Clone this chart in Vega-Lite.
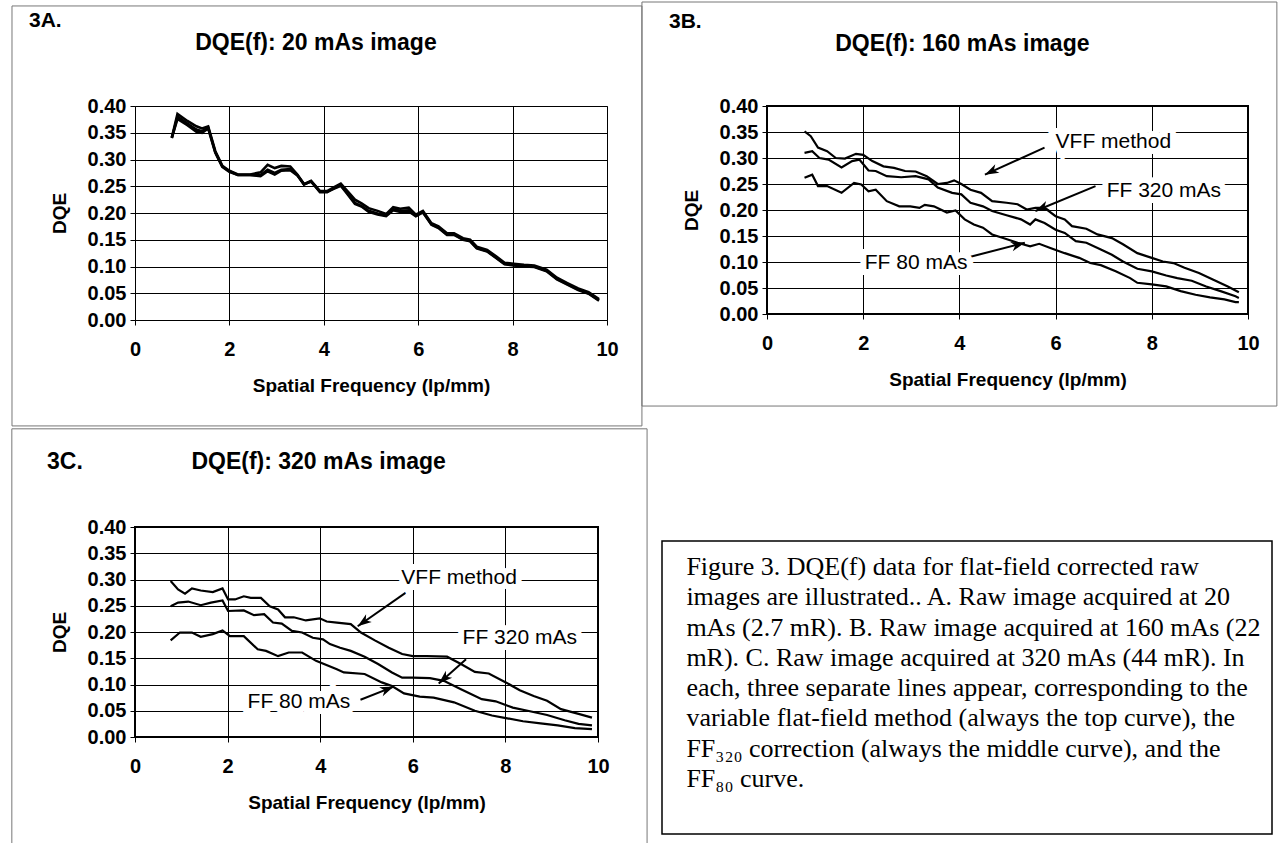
{
  "$schema": "https://vega.github.io/schema/vega-lite/v6.json",
  "background": "white",
  "padding": {"left": 10, "top": 0, "right": 0, "bottom": 0},
  "config": {
    "font": "Liberation Sans",
    "axis": {"grid": true, "gridColor": "black", "gridOpacity": 1, "gridWidth": 1, "domain": false, "tickColor": "black", "tickSize": 5, "labelColor": "black", "labelFont": "Liberation Sans", "labelFontSize": 20, "labelFontWeight": "bold", "titleColor": "black", "titleFont": "Liberation Sans", "titleFontSize": 19, "titleFontWeight": "bold", "labelOverlap": false},
    "axisX": {"labelPadding": 14, "titlePadding": 17, "labelFlush": false, "tickCount": 5},
    "axisY": {"labelPadding": 4, "titlePadding": 18, "format": ".2f", "tickCount": 8}
  },
  "datasets": {
    "A": [
      {"s":"VFF","f":0.78,"d":0.341},{"s":"VFF","f":0.90,"d":0.385},{"s":"VFF","f":1.11,"d":0.372},{"s":"VFF","f":1.30,"d":0.362},{"s":"VFF","f":1.42,"d":0.358},{"s":"VFF","f":1.55,"d":0.362},{"s":"VFF","f":1.70,"d":0.316},{"s":"VFF","f":1.85,"d":0.288},{"s":"VFF","f":2.00,"d":0.279},{"s":"VFF","f":2.18,"d":0.272},{"s":"VFF","f":2.44,"d":0.272},{"s":"VFF","f":2.66,"d":0.276},{"s":"VFF","f":2.81,"d":0.290},{"s":"VFF","f":2.96,"d":0.284},{"s":"VFF","f":3.10,"d":0.288},{"s":"VFF","f":3.29,"d":0.287},{"s":"VFF","f":3.44,"d":0.272},{"s":"VFF","f":3.58,"d":0.254},{"s":"VFF","f":3.73,"d":0.260},{"s":"VFF","f":3.92,"d":0.241},{"s":"VFF","f":4.07,"d":0.241},{"s":"VFF","f":4.21,"d":0.248},{"s":"VFF","f":4.36,"d":0.255},{"s":"VFF","f":4.51,"d":0.240},{"s":"VFF","f":4.66,"d":0.225},{"s":"VFF","f":4.80,"d":0.218},{"s":"VFF","f":4.95,"d":0.209},{"s":"VFF","f":5.14,"d":0.204},{"s":"VFF","f":5.32,"d":0.198},{"s":"VFF","f":5.47,"d":0.211},{"s":"VFF","f":5.62,"d":0.208},{"s":"VFF","f":5.80,"d":0.210},{"s":"VFF","f":5.95,"d":0.197},{"s":"VFF","f":6.10,"d":0.204},{"s":"VFF","f":6.28,"d":0.181},{"s":"VFF","f":6.43,"d":0.175},{"s":"VFF","f":6.61,"d":0.162},{"s":"VFF","f":6.76,"d":0.162},{"s":"VFF","f":6.95,"d":0.153},{"s":"VFF","f":7.10,"d":0.150},{"s":"VFF","f":7.24,"d":0.137},{"s":"VFF","f":7.46,"d":0.131},{"s":"VFF","f":7.65,"d":0.119},{"s":"VFF","f":7.83,"d":0.107},{"s":"VFF","f":8.02,"d":0.105},{"s":"VFF","f":8.24,"d":0.103},{"s":"VFF","f":8.46,"d":0.102},{"s":"VFF","f":8.72,"d":0.094},{"s":"VFF","f":8.94,"d":0.079},{"s":"VFF","f":9.16,"d":0.069},{"s":"VFF","f":9.39,"d":0.059},{"s":"VFF","f":9.61,"d":0.052},{"s":"VFF","f":9.83,"d":0.039},
      {"s":"FF320","f":0.78,"d":0.341},{"s":"FF320","f":0.90,"d":0.376},{"s":"FF320","f":1.11,"d":0.364},{"s":"FF320","f":1.30,"d":0.352},{"s":"FF320","f":1.42,"d":0.350},{"s":"FF320","f":1.55,"d":0.358},{"s":"FF320","f":1.70,"d":0.313},{"s":"FF320","f":1.85,"d":0.286},{"s":"FF320","f":2.00,"d":0.277},{"s":"FF320","f":2.18,"d":0.271},{"s":"FF320","f":2.44,"d":0.271},{"s":"FF320","f":2.66,"d":0.269},{"s":"FF320","f":2.81,"d":0.278},{"s":"FF320","f":2.96,"d":0.272},{"s":"FF320","f":3.10,"d":0.279},{"s":"FF320","f":3.29,"d":0.280},{"s":"FF320","f":3.44,"d":0.270},{"s":"FF320","f":3.58,"d":0.254},{"s":"FF320","f":3.73,"d":0.259},{"s":"FF320","f":3.92,"d":0.240},{"s":"FF320","f":4.07,"d":0.240},{"s":"FF320","f":4.21,"d":0.245},{"s":"FF320","f":4.36,"d":0.251},{"s":"FF320","f":4.51,"d":0.234},{"s":"FF320","f":4.66,"d":0.217},{"s":"FF320","f":4.80,"d":0.212},{"s":"FF320","f":4.95,"d":0.202},{"s":"FF320","f":5.14,"d":0.197},{"s":"FF320","f":5.32,"d":0.194},{"s":"FF320","f":5.47,"d":0.205},{"s":"FF320","f":5.62,"d":0.202},{"s":"FF320","f":5.80,"d":0.203},{"s":"FF320","f":5.95,"d":0.194},{"s":"FF320","f":6.10,"d":0.201},{"s":"FF320","f":6.28,"d":0.179},{"s":"FF320","f":6.43,"d":0.173},{"s":"FF320","f":6.61,"d":0.160},{"s":"FF320","f":6.76,"d":0.160},{"s":"FF320","f":6.95,"d":0.151},{"s":"FF320","f":7.10,"d":0.148},{"s":"FF320","f":7.24,"d":0.135},{"s":"FF320","f":7.46,"d":0.129},{"s":"FF320","f":7.65,"d":0.117},{"s":"FF320","f":7.83,"d":0.105},{"s":"FF320","f":8.02,"d":0.103},{"s":"FF320","f":8.24,"d":0.101},{"s":"FF320","f":8.46,"d":0.100},{"s":"FF320","f":8.72,"d":0.092},{"s":"FF320","f":8.94,"d":0.077},{"s":"FF320","f":9.16,"d":0.067},{"s":"FF320","f":9.39,"d":0.057},{"s":"FF320","f":9.61,"d":0.050},{"s":"FF320","f":9.83,"d":0.037},
      {"s":"FF80","f":0.78,"d":0.340},{"s":"FF80","f":0.90,"d":0.380},{"s":"FF80","f":1.11,"d":0.367},{"s":"FF80","f":1.30,"d":0.356},{"s":"FF80","f":1.42,"d":0.353},{"s":"FF80","f":1.55,"d":0.360},{"s":"FF80","f":1.70,"d":0.314},{"s":"FF80","f":1.85,"d":0.287},{"s":"FF80","f":2.00,"d":0.278},{"s":"FF80","f":2.18,"d":0.271},{"s":"FF80","f":2.44,"d":0.271},{"s":"FF80","f":2.66,"d":0.271},{"s":"FF80","f":2.81,"d":0.281},{"s":"FF80","f":2.96,"d":0.275},{"s":"FF80","f":3.10,"d":0.281},{"s":"FF80","f":3.29,"d":0.282},{"s":"FF80","f":3.44,"d":0.271},{"s":"FF80","f":3.58,"d":0.253},{"s":"FF80","f":3.73,"d":0.259},{"s":"FF80","f":3.92,"d":0.239},{"s":"FF80","f":4.07,"d":0.239},{"s":"FF80","f":4.21,"d":0.246},{"s":"FF80","f":4.36,"d":0.252},{"s":"FF80","f":4.51,"d":0.236},{"s":"FF80","f":4.66,"d":0.219},{"s":"FF80","f":4.80,"d":0.213},{"s":"FF80","f":4.95,"d":0.204},{"s":"FF80","f":5.14,"d":0.199},{"s":"FF80","f":5.32,"d":0.195},{"s":"FF80","f":5.47,"d":0.207},{"s":"FF80","f":5.62,"d":0.204},{"s":"FF80","f":5.80,"d":0.205},{"s":"FF80","f":5.95,"d":0.195},{"s":"FF80","f":6.10,"d":0.202},{"s":"FF80","f":6.28,"d":0.178},{"s":"FF80","f":6.43,"d":0.172},{"s":"FF80","f":6.61,"d":0.159},{"s":"FF80","f":6.76,"d":0.159},{"s":"FF80","f":6.95,"d":0.150},{"s":"FF80","f":7.10,"d":0.147},{"s":"FF80","f":7.24,"d":0.134},{"s":"FF80","f":7.46,"d":0.128},{"s":"FF80","f":7.65,"d":0.116},{"s":"FF80","f":7.83,"d":0.104},{"s":"FF80","f":8.02,"d":0.102},{"s":"FF80","f":8.24,"d":0.100},{"s":"FF80","f":8.46,"d":0.099},{"s":"FF80","f":8.72,"d":0.091},{"s":"FF80","f":8.94,"d":0.076},{"s":"FF80","f":9.16,"d":0.066},{"s":"FF80","f":9.39,"d":0.056},{"s":"FF80","f":9.61,"d":0.049},{"s":"FF80","f":9.83,"d":0.036}
    ],
    "B": [
      {"s":"VFF","f":0.78,"d":0.351},{"s":"VFF","f":0.91,"d":0.342},{"s":"VFF","f":1.06,"d":0.320},{"s":"VFF","f":1.25,"d":0.313},{"s":"VFF","f":1.43,"d":0.300},{"s":"VFF","f":1.62,"d":0.299},{"s":"VFF","f":1.85,"d":0.308},{"s":"VFF","f":2.00,"d":0.306},{"s":"VFF","f":2.19,"d":0.294},{"s":"VFF","f":2.42,"d":0.284},{"s":"VFF","f":2.64,"d":0.281},{"s":"VFF","f":2.87,"d":0.275},{"s":"VFF","f":3.09,"d":0.274},{"s":"VFF","f":3.32,"d":0.265},{"s":"VFF","f":3.55,"d":0.250},{"s":"VFF","f":3.74,"d":0.252},{"s":"VFF","f":3.89,"d":0.257},{"s":"VFF","f":4.04,"d":0.250},{"s":"VFF","f":4.23,"d":0.239},{"s":"VFF","f":4.45,"d":0.233},{"s":"VFF","f":4.68,"d":0.217},{"s":"VFF","f":4.98,"d":0.214},{"s":"VFF","f":5.21,"d":0.211},{"s":"VFF","f":5.40,"d":0.201},{"s":"VFF","f":5.58,"d":0.204},{"s":"VFF","f":5.77,"d":0.204},{"s":"VFF","f":6.00,"d":0.188},{"s":"VFF","f":6.19,"d":0.182},{"s":"VFF","f":6.34,"d":0.169},{"s":"VFF","f":6.64,"d":0.164},{"s":"VFF","f":6.87,"d":0.153},{"s":"VFF","f":7.17,"d":0.146},{"s":"VFF","f":7.40,"d":0.134},{"s":"VFF","f":7.70,"d":0.117},{"s":"VFF","f":8.00,"d":0.108},{"s":"VFF","f":8.23,"d":0.101},{"s":"VFF","f":8.45,"d":0.098},{"s":"VFF","f":8.68,"d":0.089},{"s":"VFF","f":8.98,"d":0.079},{"s":"VFF","f":9.28,"d":0.066},{"s":"VFF","f":9.58,"d":0.053},{"s":"VFF","f":9.81,"d":0.042},
      {"s":"FF320","f":0.78,"d":0.310},{"s":"FF320","f":0.94,"d":0.313},{"s":"FF320","f":1.09,"d":0.300},{"s":"FF320","f":1.28,"d":0.297},{"s":"FF320","f":1.55,"d":0.282},{"s":"FF320","f":1.77,"d":0.294},{"s":"FF320","f":1.92,"d":0.297},{"s":"FF320","f":2.11,"d":0.276},{"s":"FF320","f":2.26,"d":0.275},{"s":"FF320","f":2.49,"d":0.265},{"s":"FF320","f":2.79,"d":0.263},{"s":"FF320","f":3.09,"d":0.265},{"s":"FF320","f":3.36,"d":0.259},{"s":"FF320","f":3.55,"d":0.243},{"s":"FF320","f":3.85,"d":0.233},{"s":"FF320","f":4.04,"d":0.230},{"s":"FF320","f":4.23,"d":0.214},{"s":"FF320","f":4.49,"d":0.207},{"s":"FF320","f":4.68,"d":0.198},{"s":"FF320","f":4.98,"d":0.190},{"s":"FF320","f":5.28,"d":0.182},{"s":"FF320","f":5.47,"d":0.172},{"s":"FF320","f":5.58,"d":0.182},{"s":"FF320","f":5.77,"d":0.175},{"s":"FF320","f":6.00,"d":0.162},{"s":"FF320","f":6.19,"d":0.156},{"s":"FF320","f":6.42,"d":0.140},{"s":"FF320","f":6.64,"d":0.137},{"s":"FF320","f":6.94,"d":0.124},{"s":"FF320","f":7.17,"d":0.114},{"s":"FF320","f":7.40,"d":0.101},{"s":"FF320","f":7.70,"d":0.087},{"s":"FF320","f":8.00,"d":0.082},{"s":"FF320","f":8.30,"d":0.074},{"s":"FF320","f":8.53,"d":0.069},{"s":"FF320","f":8.83,"d":0.064},{"s":"FF320","f":9.13,"d":0.053},{"s":"FF320","f":9.43,"d":0.044},{"s":"FF320","f":9.74,"d":0.034},{"s":"FF320","f":9.81,"d":0.031},
      {"s":"FF80","f":0.78,"d":0.262},{"s":"FF80","f":0.94,"d":0.268},{"s":"FF80","f":1.06,"d":0.246},{"s":"FF80","f":1.25,"d":0.246},{"s":"FF80","f":1.55,"d":0.233},{"s":"FF80","f":1.81,"d":0.252},{"s":"FF80","f":1.96,"d":0.249},{"s":"FF80","f":2.11,"d":0.236},{"s":"FF80","f":2.26,"d":0.239},{"s":"FF80","f":2.49,"d":0.217},{"s":"FF80","f":2.75,"d":0.207},{"s":"FF80","f":2.98,"d":0.207},{"s":"FF80","f":3.17,"d":0.204},{"s":"FF80","f":3.28,"d":0.210},{"s":"FF80","f":3.47,"d":0.207},{"s":"FF80","f":3.74,"d":0.195},{"s":"FF80","f":3.92,"d":0.199},{"s":"FF80","f":4.11,"d":0.182},{"s":"FF80","f":4.30,"d":0.172},{"s":"FF80","f":4.49,"d":0.166},{"s":"FF80","f":4.68,"d":0.153},{"s":"FF80","f":4.91,"d":0.146},{"s":"FF80","f":5.21,"d":0.137},{"s":"FF80","f":5.47,"d":0.130},{"s":"FF80","f":5.66,"d":0.135},{"s":"FF80","f":5.89,"d":0.127},{"s":"FF80","f":6.19,"d":0.117},{"s":"FF80","f":6.49,"d":0.108},{"s":"FF80","f":6.72,"d":0.098},{"s":"FF80","f":6.94,"d":0.094},{"s":"FF80","f":7.25,"d":0.082},{"s":"FF80","f":7.55,"d":0.069},{"s":"FF80","f":7.70,"d":0.060},{"s":"FF80","f":8.00,"d":0.057},{"s":"FF80","f":8.30,"d":0.053},{"s":"FF80","f":8.60,"d":0.044},{"s":"FF80","f":8.91,"d":0.037},{"s":"FF80","f":9.21,"d":0.032},{"s":"FF80","f":9.51,"d":0.028},{"s":"FF80","f":9.74,"d":0.023},{"s":"FF80","f":9.81,"d":0.023}
    ],
    "C": [
      {"s":"VFF","f":0.77,"d":0.297},{"s":"VFF","f":0.93,"d":0.281},{"s":"VFF","f":1.08,"d":0.273},{"s":"VFF","f":1.23,"d":0.283},{"s":"VFF","f":1.42,"d":0.279},{"s":"VFF","f":1.68,"d":0.276},{"s":"VFF","f":1.89,"d":0.283},{"s":"VFF","f":2.01,"d":0.262},{"s":"VFF","f":2.16,"d":0.262},{"s":"VFF","f":2.35,"d":0.268},{"s":"VFF","f":2.50,"d":0.265},{"s":"VFF","f":2.72,"d":0.265},{"s":"VFF","f":2.91,"d":0.249},{"s":"VFF","f":3.09,"d":0.243},{"s":"VFF","f":3.24,"d":0.228},{"s":"VFF","f":3.43,"d":0.228},{"s":"VFF","f":3.69,"d":0.222},{"s":"VFF","f":3.99,"d":0.226},{"s":"VFF","f":4.14,"d":0.220},{"s":"VFF","f":4.36,"d":0.218},{"s":"VFF","f":4.66,"d":0.215},{"s":"VFF","f":4.88,"d":0.199},{"s":"VFF","f":5.18,"d":0.184},{"s":"VFF","f":5.48,"d":0.170},{"s":"VFF","f":5.77,"d":0.158},{"s":"VFF","f":6.00,"d":0.154},{"s":"VFF","f":6.30,"d":0.154},{"s":"VFF","f":6.74,"d":0.153},{"s":"VFF","f":7.04,"d":0.139},{"s":"VFF","f":7.34,"d":0.124},{"s":"VFF","f":7.64,"d":0.121},{"s":"VFF","f":8.01,"d":0.104},{"s":"VFF","f":8.31,"d":0.089},{"s":"VFF","f":8.61,"d":0.078},{"s":"VFF","f":8.90,"d":0.069},{"s":"VFF","f":9.20,"d":0.053},{"s":"VFF","f":9.58,"d":0.044},{"s":"VFF","f":9.87,"d":0.037},
      {"s":"FF320","f":0.77,"d":0.249},{"s":"FF320","f":0.93,"d":0.256},{"s":"FF320","f":1.15,"d":0.258},{"s":"FF320","f":1.42,"d":0.251},{"s":"FF320","f":1.64,"d":0.256},{"s":"FF320","f":1.89,"d":0.260},{"s":"FF320","f":2.01,"d":0.240},{"s":"FF320","f":2.35,"d":0.241},{"s":"FF320","f":2.57,"d":0.232},{"s":"FF320","f":2.79,"d":0.234},{"s":"FF320","f":2.98,"d":0.218},{"s":"FF320","f":3.17,"d":0.216},{"s":"FF320","f":3.39,"d":0.202},{"s":"FF320","f":3.61,"d":0.199},{"s":"FF320","f":3.84,"d":0.189},{"s":"FF320","f":4.06,"d":0.186},{"s":"FF320","f":4.21,"d":0.177},{"s":"FF320","f":4.43,"d":0.170},{"s":"FF320","f":4.66,"d":0.164},{"s":"FF320","f":4.96,"d":0.153},{"s":"FF320","f":5.25,"d":0.139},{"s":"FF320","f":5.55,"d":0.123},{"s":"FF320","f":5.77,"d":0.113},{"s":"FF320","f":6.00,"d":0.113},{"s":"FF320","f":6.37,"d":0.112},{"s":"FF320","f":6.67,"d":0.107},{"s":"FF320","f":7.04,"d":0.091},{"s":"FF320","f":7.49,"d":0.072},{"s":"FF320","f":7.79,"d":0.068},{"s":"FF320","f":8.16,"d":0.056},{"s":"FF320","f":8.53,"d":0.049},{"s":"FF320","f":8.90,"d":0.042},{"s":"FF320","f":9.28,"d":0.032},{"s":"FF320","f":9.58,"d":0.025},{"s":"FF320","f":9.87,"d":0.022},
      {"s":"FF80","f":0.77,"d":0.184},{"s":"FF80","f":0.97,"d":0.199},{"s":"FF80","f":1.23,"d":0.199},{"s":"FF80","f":1.42,"d":0.191},{"s":"FF80","f":1.68,"d":0.196},{"s":"FF80","f":1.89,"d":0.203},{"s":"FF80","f":2.05,"d":0.192},{"s":"FF80","f":2.35,"d":0.192},{"s":"FF80","f":2.65,"d":0.167},{"s":"FF80","f":2.83,"d":0.164},{"s":"FF80","f":3.09,"d":0.154},{"s":"FF80","f":3.32,"d":0.161},{"s":"FF80","f":3.61,"d":0.161},{"s":"FF80","f":3.91,"d":0.145},{"s":"FF80","f":4.36,"d":0.129},{"s":"FF80","f":4.51,"d":0.123},{"s":"FF80","f":4.96,"d":0.120},{"s":"FF80","f":5.33,"d":0.104},{"s":"FF80","f":5.55,"d":0.097},{"s":"FF80","f":5.81,"d":0.083},{"s":"FF80","f":6.15,"d":0.077},{"s":"FF80","f":6.45,"d":0.075},{"s":"FF80","f":6.89,"d":0.066},{"s":"FF80","f":7.34,"d":0.050},{"s":"FF80","f":7.71,"d":0.041},{"s":"FF80","f":8.01,"d":0.036},{"s":"FF80","f":8.38,"d":0.030},{"s":"FF80","f":8.76,"d":0.026},{"s":"FF80","f":9.13,"d":0.022},{"s":"FF80","f":9.50,"d":0.017},{"s":"FF80","f":9.87,"d":0.015}
    ],
    "annB": [
      {"label":"VFF method","tx":7.2,"ty":0.33,"x1":5.77,"y1":0.32,"x2":4.53,"y2":0.268,"ang":244},
      {"label":"FF 320 mAs","tx":8.25,"ty":0.236,"x1":6.83,"y1":0.246,"x2":5.58,"y2":0.198,"ang":246},
      {"label":"FF 80 mAs","tx":3.1,"ty":0.098,"x1":4.23,"y1":0.11,"x2":5.36,"y2":0.137,"ang":74}
    ],
    "annC": [
      {"label":"VFF method","tx":7.0,"ty":0.303,"x1":5.85,"y1":0.275,"x2":4.81,"y2":0.211,"ang":234},
      {"label":"FF 320 mAs","tx":8.31,"ty":0.188,"x1":7.15,"y1":0.148,"x2":6.56,"y2":0.102,"ang":228},
      {"label":"FF 80 mAs","tx":3.54,"ty":0.066,"x1":4.87,"y1":0.071,"x2":5.59,"y2":0.096,"ang":68}
    ],
    "caption": [
      {"line":1,"text":"Figure 3. DQE(f) data for flat-field corrected raw"},
      {"line":2,"text":"images are illustrated.. A. Raw image acquired at 20"},
      {"line":3,"text":"mAs (2.7 mR). B. Raw image acquired at 160 mAs (22"},
      {"line":4,"text":"mR). C. Raw image acquired at 320 mAs (44 mR). In"},
      {"line":5,"text":"each, three separate lines appear, corresponding to the"},
      {"line":6,"text":"variable flat-field method (always the top curve), the"},
      {"line":7,"text":"FF₃₂₀ correction (always the middle curve), and the"},
      {"line":8,"text":"FF₈₀ curve."}
    ]
  },
  "vconcat": [
    {
      "hconcat": [
        {
          "width": 472, "height": 214,
          "view": {"stroke": "#555555", "strokeWidth": 1},
          "title": {"text": "3A.", "subtitle": "\u200b\u00a0\u00a0\u00a0\u00a0\u00a0\u00a0\u00a0\u00a0\u00a0\u00a0\u00a0\u00a0\u00a0\u00a0\u00a0\u00a0\u00a0\u00a0\u00a0\u00a0\u00a0\u00a0\u00a0\u00a0\u00a0\u00a0DQE(f): 20 mAs image", "anchor": "start", "frame": "group", "dx": -106, "offset": -50, "font": "Liberation Sans", "fontSize": 21, "fontWeight": "bold", "color": "black", "subtitleFont": "Liberation Sans", "subtitleFontSize": 23, "subtitleFontWeight": "bold", "subtitleColor": "black", "subtitlePadding": 1},
          "layer": [
            {
              "data": {"values": [{}]},
              "mark": {"type": "rect", "fillOpacity": 0, "stroke": "#777777", "strokeWidth": 1},
              "encoding": {
                "x": {"datum": -2.606, "type": "quantitative", "scale": {"domain": [0, 10], "nice": false}, "title": "Spatial Frequency (lp/mm)"},
                "x2": {"datum": 10.74},
                "y": {"datum": 0.587, "type": "quantitative", "scale": {"domain": [0, 0.4], "nice": false}, "title": "DQE"},
                "y2": {"datum": -0.198}
              }
            },
            {
              "data": {"name": "A"},
              "mark": {"type": "line", "color": "black", "strokeWidth": 2.6},
              "encoding": {
                "x": {"field": "f", "type": "quantitative", "scale": {"domain": [0, 10], "nice": false}, "title": "Spatial Frequency (lp/mm)"},
                "y": {"field": "d", "type": "quantitative", "scale": {"domain": [0, 0.4], "nice": false}, "title": "DQE"},
                "detail": {"field": "s"}
              }
            }
          ]
        },
        {
          "width": 481, "height": 208,
          "view": {"stroke": "black", "strokeWidth": 2},
          "title": {"text": "3B.", "subtitle": "\u200b\u00a0\u00a0\u00a0\u00a0\u00a0\u00a0\u00a0\u00a0\u00a0\u00a0\u00a0\u00a0\u00a0\u00a0\u00a0\u00a0\u00a0\u00a0\u00a0\u00a0\u00a0\u00a0\u00a0\u00a0\u00a0\u00a0DQE(f): 160 mAs image", "anchor": "start", "frame": "group", "dx": -98, "offset": -54, "font": "Liberation Sans", "fontSize": 21, "fontWeight": "bold", "color": "black", "subtitleFont": "Liberation Sans", "subtitleFontSize": 23, "subtitleFontWeight": "bold", "subtitleColor": "black", "subtitlePadding": 1},
          "layer": [
            {
              "data": {"values": [{}]},
              "mark": {"type": "rect", "fillOpacity": 0, "stroke": "#777777", "strokeWidth": 1},
              "encoding": {
                "x": {"datum": -2.6, "type": "quantitative", "scale": {"domain": [0, 10], "nice": false}, "title": "Spatial Frequency (lp/mm)"},
                "x2": {"datum": 10.6},
                "y": {"datum": 0.6, "type": "quantitative", "scale": {"domain": [0, 0.4], "nice": false}, "title": "DQE"},
                "y2": {"datum": -0.177}
              }
            },
            {
              "data": {"name": "B"},
              "mark": {"type": "line", "color": "black", "strokeWidth": 2.2},
              "encoding": {
                "x": {"field": "f", "type": "quantitative", "scale": {"domain": [0, 10], "nice": false}, "title": "Spatial Frequency (lp/mm)"},
                "y": {"field": "d", "type": "quantitative", "scale": {"domain": [0, 0.4], "nice": false}, "title": "DQE"},
                "detail": {"field": "s"}
              }
            },
            {
              "data": {"name": "annB"},
              "mark": {"type": "rule", "color": "black", "strokeWidth": 2},
              "encoding": {
                "x": {"field": "x1", "type": "quantitative", "scale": {"domain": [0, 10], "nice": false}, "title": "Spatial Frequency (lp/mm)"},
                "y": {"field": "y1", "type": "quantitative", "scale": {"domain": [0, 0.4], "nice": false}, "title": "DQE"},
                "x2": {"field": "x2"}, "y2": {"field": "y2"}
              }
            },
            {
              "data": {"name": "annB"},
              "mark": {"type": "point", "shape": "M0,0L0.55,1.6L0,1.15L-0.55,1.6Z", "filled": true, "color": "black", "size": 300, "opacity": 1},
              "encoding": {
                "x": {"field": "x2", "type": "quantitative", "scale": {"domain": [0, 10], "nice": false}, "title": "Spatial Frequency (lp/mm)"},
                "y": {"field": "y2", "type": "quantitative", "scale": {"domain": [0, 0.4], "nice": false}, "title": "DQE"},
                "angle": {"field": "ang", "type": "quantitative", "scale": null}
              }
            },
            {
              "data": {"name": "annB"},
              "mark": {"type": "text", "font": "Liberation Sans", "fontSize": 21, "color": "white", "stroke": "white", "strokeWidth": 12, "align": "center", "baseline": "middle"},
              "encoding": {
                "x": {"field": "tx", "type": "quantitative", "scale": {"domain": [0, 10], "nice": false}, "title": "Spatial Frequency (lp/mm)"},
                "y": {"field": "ty", "type": "quantitative", "scale": {"domain": [0, 0.4], "nice": false}, "title": "DQE"},
                "text": {"field": "label"}
              }
            },
            {
              "data": {"name": "annB"},
              "mark": {"type": "text", "font": "Liberation Sans", "fontSize": 21, "color": "black", "align": "center", "baseline": "middle"},
              "encoding": {
                "x": {"field": "tx", "type": "quantitative", "scale": {"domain": [0, 10], "nice": false}, "title": "Spatial Frequency (lp/mm)"},
                "y": {"field": "ty", "type": "quantitative", "scale": {"domain": [0, 0.4], "nice": false}, "title": "DQE"},
                "text": {"field": "label"}
              }
            }
          ]
        }
      ],
      "spacing": 160,
      "bounds": "flush"
    },
    {
      "hconcat": [
        {
          "width": 463, "height": 210,
          "view": {"stroke": "black", "strokeWidth": 2},
          "title": {"text": "3C.\u00a0\u00a0\u00a0\u00a0\u00a0\u00a0\u00a0\u00a0\u00a0\u00a0\u00a0\u00a0\u00a0\u00a0\u00a0\u00a0\u00a0DQE(f): 320 mAs image", "anchor": "start", "frame": "group", "dx": -88, "offset": -46, "font": "Liberation Sans", "fontSize": 23, "fontWeight": "bold", "color": "black"},
          "layer": [
            {
              "data": {"values": [{}]},
              "mark": {"type": "rect", "fillOpacity": 0, "stroke": "#777777", "strokeWidth": 1},
              "encoding": {
                "x": {"datum": -2.66, "type": "quantitative", "scale": {"domain": [0, 10], "nice": false}, "title": "Spatial Frequency (lp/mm)"},
                "x2": {"datum": 11.06},
                "y": {"datum": 0.587, "type": "quantitative", "scale": {"domain": [0, 0.4], "nice": false}, "title": "DQE"},
                "y2": {"datum": -0.21}
              }
            },
            {
              "data": {"name": "C"},
              "mark": {"type": "line", "color": "black", "strokeWidth": 2.2},
              "encoding": {
                "x": {"field": "f", "type": "quantitative", "scale": {"domain": [0, 10], "nice": false}, "title": "Spatial Frequency (lp/mm)"},
                "y": {"field": "d", "type": "quantitative", "scale": {"domain": [0, 0.4], "nice": false}, "title": "DQE"},
                "detail": {"field": "s"}
              }
            },
            {
              "data": {"name": "annC"},
              "mark": {"type": "rule", "color": "black", "strokeWidth": 2},
              "encoding": {
                "x": {"field": "x1", "type": "quantitative", "scale": {"domain": [0, 10], "nice": false}, "title": "Spatial Frequency (lp/mm)"},
                "y": {"field": "y1", "type": "quantitative", "scale": {"domain": [0, 0.4], "nice": false}, "title": "DQE"},
                "x2": {"field": "x2"}, "y2": {"field": "y2"}
              }
            },
            {
              "data": {"name": "annC"},
              "mark": {"type": "point", "shape": "M0,0L0.55,1.6L0,1.15L-0.55,1.6Z", "filled": true, "color": "black", "size": 300, "opacity": 1},
              "encoding": {
                "x": {"field": "x2", "type": "quantitative", "scale": {"domain": [0, 10], "nice": false}, "title": "Spatial Frequency (lp/mm)"},
                "y": {"field": "y2", "type": "quantitative", "scale": {"domain": [0, 0.4], "nice": false}, "title": "DQE"},
                "angle": {"field": "ang", "type": "quantitative", "scale": null}
              }
            },
            {
              "data": {"name": "annC"},
              "mark": {"type": "text", "font": "Liberation Sans", "fontSize": 21, "color": "white", "stroke": "white", "strokeWidth": 12, "align": "center", "baseline": "middle"},
              "encoding": {
                "x": {"field": "tx", "type": "quantitative", "scale": {"domain": [0, 10], "nice": false}, "title": "Spatial Frequency (lp/mm)"},
                "y": {"field": "ty", "type": "quantitative", "scale": {"domain": [0, 0.4], "nice": false}, "title": "DQE"},
                "text": {"field": "label"}
              }
            },
            {
              "data": {"name": "annC"},
              "mark": {"type": "text", "font": "Liberation Sans", "fontSize": 21, "color": "black", "align": "center", "baseline": "middle"},
              "encoding": {
                "x": {"field": "tx", "type": "quantitative", "scale": {"domain": [0, 10], "nice": false}, "title": "Spatial Frequency (lp/mm)"},
                "y": {"field": "ty", "type": "quantitative", "scale": {"domain": [0, 0.4], "nice": false}, "title": "DQE"},
                "text": {"field": "label"}
              }
            }
          ]
        },
        {
          "vconcat": [
            {
              "width": 610, "height": 1,
              "view": {"stroke": null},
              "data": {"values": [{}]},
              "mark": {"type": "point", "opacity": 0},
              "encoding": {}
            },
            {
              "width": 610, "height": 293,
              "view": {"stroke": "black", "strokeWidth": 1.5},
              "data": {"name": "caption"},
              "mark": {"type": "text", "align": "left", "baseline": "middle", "font": "Liberation Serif", "fontSize": 26, "color": "black"},
              "encoding": {
                "x": {"datum": 0.04, "type": "quantitative", "scale": {"domain": [0, 1]}, "axis": null},
                "y": {"field": "line", "type": "quantitative", "scale": {"domain": [0.142, 9.812], "reverse": true, "nice": false, "zero": false}, "axis": null},
                "text": {"field": "text"}
              }
            }
          ],
          "spacing": 13,
          "bounds": "flush"
        }
      ],
      "spacing": 64,
      "bounds": "flush"
    }
  ],
  "spacing": 421,
  "bounds": "flush"
}
